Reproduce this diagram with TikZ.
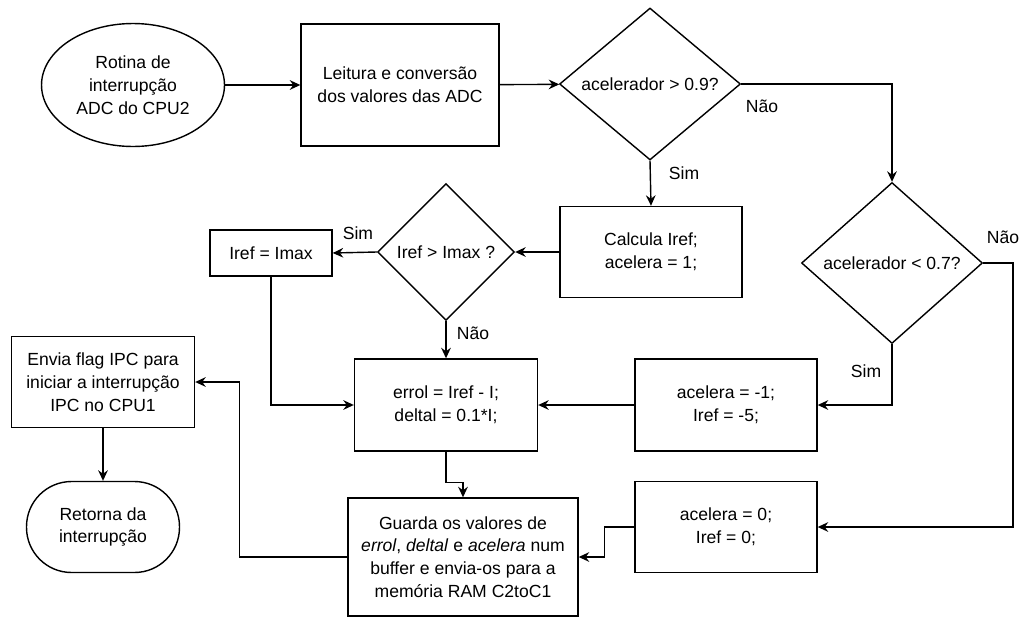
\documentclass[tikz,border=0pt]{standalone}
\usepackage{fontspec}
\setmainfont{Liberation Sans}
\usetikzlibrary{shapes.geometric,arrows.meta}

\begin{document}
\begin{tikzpicture}[x=0.02cm, y=-0.02cm,
		every node/.style={font=\fontsize{10}{13}\selectfont, align=center},
		box/.style={rectangle, draw, line width=0.8pt, inner sep=2pt},
		decision/.style={diamond, draw, line width=0.8pt, inner sep=0pt},
		flow/.style={-{Stealth[length=6pt,width=5.5pt,inset=2pt]}, line width=0.8pt}
		]
		\useasboundingbox (0,0) rectangle (1027,619);
		% start / end
		\node[ellipse, draw, line width=0.8pt, minimum width=3.66cm, minimum height=2.46cm] (rotina) at (133,85) {Rotina de\\interrupção\\ADC do CPU2};
		\node[box, rounded corners=0.9cm, minimum width=3.06cm, minimum height=1.82cm] (retorna) at (103,527) {Retorna da\\interrupção};
		% process boxes
		\node[box, minimum width=3.96cm, minimum height=2.44cm] (leitura) at (400,85) {Leitura e conversão\\dos valores das ADC};
		\node[box, minimum width=3.64cm, minimum height=1.82cm] (calc) at (651,252) {Calcula Iref;\\acelera = 1;};
		\node[box, minimum width=2.44cm, minimum height=0.92cm] (imax) at (271,253) {Iref = Imax};
		\node[box, minimum width=3.66cm, minimum height=1.84cm] (erro) at (446,405) {errol = Iref - I;\\deltal = 0.1*I;};
		\node[box, minimum width=3.64cm, minimum height=1.84cm] (menos) at (726,405) {acelera = -1;\\Iref = -5;};
		\node[box, minimum width=3.64cm, minimum height=1.82cm] (zero) at (726,527) {acelera = 0;\\Iref = 0;};
		\node[box, minimum width=4.60cm, minimum height=2.36cm] (guarda) at (463,557) {Guarda os valores de\\\textit{errol}, \textit{deltal} e \textit{acelera} num\\buffer e envia-os para a\\memória RAM C2toC1};
		\node[box, minimum width=3.66cm, minimum height=1.82cm] (envia) at (103,382) {Envia flag IPC para\\iniciar a interrupção\\IPC no CPU1};
		% decisions
		\node[decision, minimum width=3.62cm, minimum height=3.04cm] (acelA) at (650,84) {\makebox[0pt]{acelerador > 0.9?}};
		\node[decision, minimum width=3.62cm, minimum height=3.22cm] (acelB) at (892,263) {\makebox[0pt]{acelerador < 0.7?}};
		\node[decision, minimum width=2.74cm, minimum height=2.74cm] (imaxq) at (446,252) {\makebox[0pt]{Iref > Imax ?}};
		% branch labels
		\node (naoA) at (762,106) {Não};
		\node (simA) at (684,173) {Sim};
		\node (naoB) at (1003,237) {Não};
		\node (simB) at (866,371) {Sim};
		\node (simC) at (358,233) {Sim};
		\node (naoC) at (473,333) {Não};
		% connectors
		\draw[flow] (rotina) -- (leitura);
		\draw[flow] (leitura) -- (acelA);
		\draw[flow] (acelA.east) -| (acelB.north);
		\draw[flow] (acelA.south) -- (calc.north);
		\draw[flow] (calc.west) -- (imaxq.east);
		\draw[flow] (imaxq.west) -- (imax.east);
		\draw[flow] (imaxq.south) -- (erro.north);
		\draw[flow] (imax.south) |- (erro.west);
		\draw[flow] (acelB.south) |- (menos.east);
		\draw[flow] (menos.west) -- (erro.east);
		\draw[flow] (acelB.east) -- ++(30,0) |- (zero.east);
		\draw[flow] (zero.west) -- ++(-30,0) |- (guarda.east);
		\draw[flow] (erro.south) -- ++(0,31) -| (guarda.north);
		\draw[flow] (guarda.west) -- ++(-108,0) |- (envia.east);
		\draw[flow] (envia) -- (retorna);
	\end{tikzpicture}
\end{document}
